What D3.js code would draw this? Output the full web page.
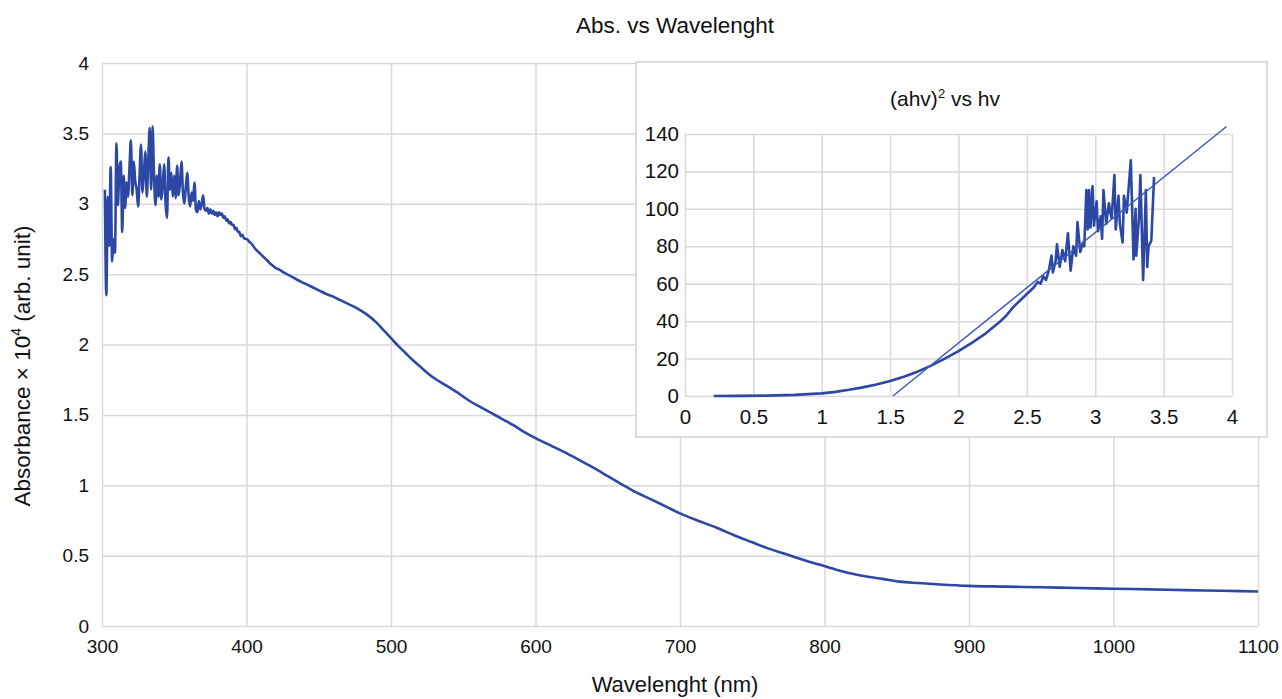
<!DOCTYPE html>
<html><head><meta charset="utf-8">
<script src="https://cdn.jsdelivr.net/npm/d3@7"></script>
<style>body{margin:0;background:#fff;} svg{display:block;font-family:"Liberation Sans",Arial,sans-serif;}</style>
</head><body>
<svg id="c" width="1282" height="699"></svg>
<script>
// ---- Main chart data ----
const wavelength = [302,303,304,305,306,307,308,309,310,311,312,313,314,315,316,317,318,319,320,321,322,323,324,325,326,327,328,329,330,331,332,333,334,335,336,337,338,339,340,341,342,343,344,345,346,347,348,349,350,351,352,353,354,355,356,357,358,359,360,361,362,363,364,365,366,367,368,369,370,371,372,373,374,375,376,377,378,379,380,381,382,383,384,385,386,387,388,389,390,391,392,393,394,395,396,397,398,399,400,
402,404,406,408,410,412,414,417,420,423,426,430,435,440,445,450,455,460,465,470,475,480,485,490,495,500,505,510,515,520,525,530,538,545,550,555,562,570,578,585,592,600,610,622,632,640,650,660,668,680,690,700,712,725,737,750,760,772,785,795,802,810,820,830,840,852,865,880,900,925,950,975,1000,1025,1050,1075,1100];
const absorbance = [3.10,2.35,3.05,2.70,3.26,2.59,2.75,2.65,3.43,2.99,3.25,3.30,2.80,3.20,2.97,3.15,3.05,3.25,3.45,3.06,3.30,3.16,3.10,2.98,3.20,3.42,3.08,3.22,3.37,3.05,3.30,3.54,3.10,3.55,3.20,2.99,3.20,3.05,3.28,3.03,3.12,3.28,3.00,2.90,3.33,3.10,3.22,3.05,3.20,3.04,3.27,3.06,3.15,3.30,3.08,3.00,3.12,3.22,3.05,2.98,3.08,3.02,3.15,2.96,2.94,3.02,2.96,3.00,3.06,2.96,2.95,2.97,2.93,2.96,2.93,2.95,2.92,2.94,2.91,2.94,2.92,2.93,2.90,2.91,2.88,2.89,2.86,2.87,2.85,2.85,2.82,2.83,2.80,2.80,2.77,2.78,2.76,2.75,2.75,
2.73,2.71,2.68,2.66,2.64,2.62,2.60,2.57,2.545,2.53,2.51,2.49,2.46,2.435,2.41,2.385,2.36,2.34,2.315,2.29,2.265,2.235,2.20,2.155,2.10,2.045,1.99,1.94,1.89,1.845,1.80,1.76,1.71,1.665,1.63,1.595,1.555,1.51,1.465,1.425,1.38,1.335,1.285,1.225,1.17,1.125,1.065,1.005,0.958,0.90,0.85,0.80,0.75,0.70,0.647,0.595,0.555,0.515,0.47,0.44,0.42,0.395,0.37,0.35,0.335,0.315,0.305,0.295,0.285,0.28,0.275,0.27,0.265,0.26,0.255,0.25,0.245];
const mainXTicks = [300,400,500,600,700,800,900,1000,1100];
const mainYTicks = [0,0.5,1,1.5,2,2.5,3,3.5,4];

// ---- Inset data ----
const hv = [0.21,0.4,0.6,0.8,1.0,1.1,1.2,1.3,1.4,1.5,1.6,1.7,1.8,1.9,2.0,2.1,2.2,2.3,2.35,2.4,2.45,2.5,2.55,2.58,2.6,2.62,2.64,2.66,2.68,2.69,2.71,2.72,2.74,2.76,2.78,2.80,2.82,2.84,2.86,2.87,2.89,2.91,2.92,2.935,2.945,2.955,2.965,2.98,2.99,3.01,3.02,3.04,3.05,3.06,3.08,3.10,3.11,3.12,3.14,3.15,3.17,3.18,3.2,3.21,3.23,3.26,3.28,3.295,3.30,3.32,3.33,3.35,3.36,3.37,3.38,3.39,3.41,3.43];
const ahv2 = [0,0.05,0.2,0.6,1.4,2.2,3.3,4.6,6.2,8.0,10.3,13.0,16.2,20.0,24.0,28.5,33.5,39.5,43,47.5,51,54.5,58,61,60,64,62,67,75,66,72,81,69,78,72,87,67,80,75,93,77,82,80,110,89,110,90,112,91,104,88,96,84,110,92,103,98,95,118,89,107,92,82,107,98,126,73,100,75,96,118,62,85,110,69,80,83,117];
const fitHv = [1.52,3.96];
const fitVal = [0,144];
const insetXTicks = [0,0.5,1,1.5,2,2.5,3,3.5,4];
const insetYTicks = [0,20,40,60,80,100,120,140];

const blue = "#2c48a4";
const grid = "#d9d9d9";
const svg = d3.select("#c");

// ---- Main chart ----
const M = {l:102, r:1258, t:63, b:626};
const x = d3.scaleLinear().domain([300,1100]).range([M.l,M.r]);
const y = d3.scaleLinear().domain([0,4]).range([M.b,M.t]);

const gx = svg.append("g").attr("transform",`translate(0,${M.b})`)
  .call(d3.axisBottom(x).tickValues(mainXTicks).tickSize(-(M.b-M.t)).tickPadding(14).tickFormat(d3.format("d")));
const gy = svg.append("g").attr("transform",`translate(${M.l},0)`)
  .call(d3.axisLeft(y).tickValues(mainYTicks).tickSize(-(M.r-M.l)).tickPadding(13).tickFormat(d=>String(d)));
[gx,gy].forEach(g=>{
  g.select(".domain").remove();
  g.selectAll(".tick line").attr("stroke",grid).attr("stroke-width",1.5);
  g.selectAll(".tick text").attr("fill","#111").style("font-size","19px");
});

const line = d3.line().curve(d3.curveMonotoneX).x((d,i)=>x(wavelength[i])).y((d,i)=>y(absorbance[i]));
svg.append("path").datum(absorbance).attr("d",line).attr("fill","none")
  .attr("stroke",blue).attr("stroke-width",2.6).attr("stroke-linejoin","round");

svg.append("text").attr("x",675).attr("y",33).attr("text-anchor","middle")
  .style("font-size","22.5px").attr("fill","#111").text("Abs. vs Wavelenght");
svg.append("text").attr("x",675).attr("y",692).attr("text-anchor","middle")
  .style("font-size","22px").attr("fill","#111").text("Wavelenght (nm)");
const yl = svg.append("text").attr("transform","translate(30,366) rotate(-90)").attr("text-anchor","middle")
  .style("font-size","22.5px").attr("fill","#111");
yl.append("tspan").text("Absorbance × 10");
yl.append("tspan").attr("dy",-9).style("font-size","14px").text("4");
yl.append("tspan").attr("dy",9).text(" (arb. unit)");

// ---- Inset ----
svg.append("rect").attr("x",636).attr("y",62).attr("width",631).attr("height",375)
  .attr("fill","#fff").attr("stroke","#d0d0d0").attr("stroke-width",1.5);
const I = {l:685, r:1232, t:134, b:396};
const xi = d3.scaleLinear().domain([0,4]).range([I.l,I.r]);
const yi = d3.scaleLinear().domain([0,140]).range([I.b,I.t]);
const gxi = svg.append("g").attr("transform",`translate(0,${I.b})`)
  .call(d3.axisBottom(xi).tickValues(insetXTicks).tickSize(-(I.b-I.t)).tickPadding(13).tickFormat(d=>String(d)));
const gyi = svg.append("g").attr("transform",`translate(${I.l},0)`)
  .call(d3.axisLeft(yi).tickValues(insetYTicks).tickSize(-(I.r-I.l)).tickPadding(6).tickFormat(d=>String(d)));
[gxi,gyi].forEach(g=>{
  g.select(".domain").remove();
  g.selectAll(".tick line").attr("stroke",grid).attr("stroke-width",1.5);
  g.selectAll(".tick text").attr("fill","#111").style("font-size","20.5px");
});
const linei = d3.line().x((d,i)=>xi(hv[i])).y((d,i)=>yi(ahv2[i]));
svg.append("path").datum(ahv2).attr("d",linei).attr("fill","none")
  .attr("stroke",blue).attr("stroke-width",2.6).attr("stroke-linejoin","round");
const fitLine = d3.line().x((d,i)=>xi(fitHv[i])).y((d,i)=>yi(fitVal[i]));
svg.append("path").datum(fitVal).attr("d",fitLine).attr("fill","none")
  .attr("stroke","#3d5cb8").attr("stroke-width",1.5);
const it = svg.append("text").attr("x",945).attr("y",106).attr("text-anchor","middle")
  .style("font-size","21px").attr("fill","#111");
it.append("tspan").text("(ahv)");
it.append("tspan").attr("dy",-8).style("font-size","13px").text("2");
it.append("tspan").attr("dy",8).text(" vs hv");
</script>
</body></html>
